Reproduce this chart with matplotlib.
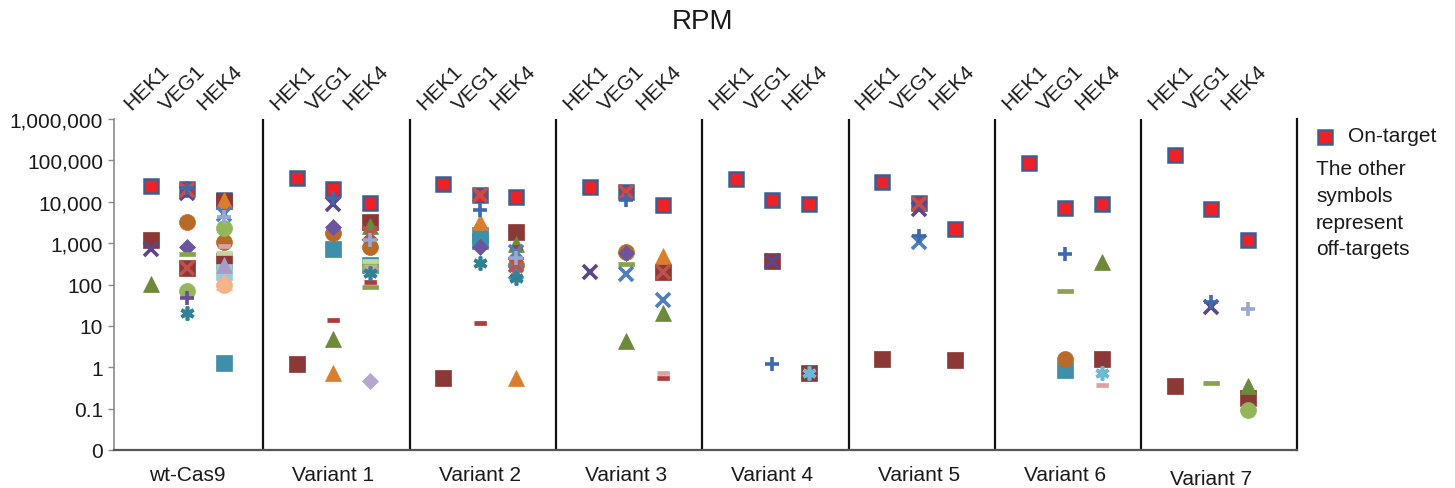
import matplotlib
matplotlib.use("Agg")
import matplotlib.pyplot as plt
from matplotlib.lines import Line2D
from matplotlib.ticker import FixedLocator, NullLocator

plt.rcParams["font.family"] = ["Liberation Sans", "DejaVu Sans"]

# ---------------------------
# Data
# ---------------------------
variants = ["wt-Cas9", "Variant 1", "Variant 2", "Variant 3",
            "Variant 4", "Variant 5", "Variant 6", "Variant 7"]
sites = ["HEK1", "VEG1", "HEK4"]

# on-target RPM per variant: HEK1, VEG1, HEK4
on_target = [
    [24400, 20200, 11000],
    [38000, 20000, 9460],
    [27200, 14500, 13200],
    [23000, 16800, 8300],
    [34600, 11000, 8600],
    [29400, 9460, 2150],
    [84500, 7160, 8970],
    [135000, 6530, 1180],
]

# off-targets: (variant index, site index, RPM), one list per symbol
sq_darkred = [(0, 0, 1180), (0, 1, 244), (0, 2, 10500), (0, 2, 380),
              (1, 0, 1.18), (1, 2, 3160), (2, 0, 0.55), (2, 2, 1820),
              (3, 2, 202), (4, 1, 380), (4, 2, 0.74), (5, 0, 1.56),
              (5, 2, 1.5), (6, 2, 1.56), (7, 0, 0.36), (7, 2, 0.18)]
sq_teal = [(0, 2, 1.27), (1, 1, 716), (1, 2, 300), (2, 1, 1600),
           (2, 1, 1100), (6, 1, 0.85)]
sq_lblue = [(0, 2, 205)]
x_purple = [(0, 0, 716), (0, 1, 16000), (1, 1, 8600), (3, 0, 202),
            (4, 1, 380), (5, 1, 6530), (7, 1, 29)]
x_blue = [(0, 2, 5000), (1, 2, 1700), (2, 2, 620), (2, 2, 205),
          (3, 1, 178), (3, 2, 42), (5, 1, 1040)]
x_red = [(0, 1, 19000), (0, 1, 244), (1, 2, 1700), (2, 1, 14500),
         (2, 2, 297), (3, 1, 16800), (3, 2, 202), (5, 1, 9000)]
tri_olive = [(0, 0, 105), (1, 1, 4.75), (1, 2, 2600), (2, 2, 935),
             (3, 1, 4.26), (3, 2, 21), (6, 2, 352), (7, 2, 0.36)]
tri_orange = [(0, 2, 11000), (1, 1, 0.74), (2, 1, 3160), (2, 2, 0.55),
              (3, 2, 493)]
tri_lilac = [(0, 2, 297)]
tri_peach = [(0, 2, 115)]
ast_teal = [(0, 1, 20), (1, 2, 186), (2, 1, 340), (2, 2, 140)]
ast_lblue = [(4, 2, 0.74), (6, 2, 0.74)]
circ_brown = [(0, 1, 3160), (0, 2, 1070), (1, 1, 1710), (1, 2, 815),
              (2, 2, 297), (3, 1, 617), (6, 1, 1.56)]
circ_lgreen = [(0, 1, 69), (0, 2, 2340), (1, 2, 270), (7, 2, 0.091)]
circ_peach = [(0, 2, 96)]
dia_purple = [(0, 1, 815), (1, 1, 2480), (2, 1, 815), (3, 1, 590)]
dia_lilac = [(1, 2, 0.46)]
plus_blue = [(0, 1, 21000), (1, 1, 12000), (2, 1, 6150), (3, 1, 11000),
             (4, 1, 1.23), (5, 1, 1480), (6, 1, 550), (7, 1, 38)]
plus_purple = [(0, 1, 46)]
plus_lilac = [(0, 2, 4350), (1, 2, 1180), (2, 2, 440), (7, 2, 25)]
bar_olive = [(0, 1, 560), (1, 2, 86), (3, 1, 305), (6, 1, 69), (7, 1, 0.41)]
bar_red = [(1, 1, 14), (1, 2, 112), (2, 1, 11.8), (2, 2, 815), (3, 2, 0.55)]
bar_pink = [(0, 2, 870), (1, 2, 260), (3, 2, 0.74), (6, 2, 0.38)]
bar_lgreen = [(0, 2, 590), (1, 2, 360)]

y_ticks = [0.01, 0.1, 1, 10, 100, 1000, 10000, 100000, 1000000]
y_labels = ["0", "0.1", "1", "10", "100", "1,000", "10,000",
            "100,000", "1,000,000"]

# ---------------------------
# Marker styles
# ---------------------------
BAR = [(-1, -0.3), (1, -0.3), (1, 0.3), (-1, 0.3)]
STAR = (6, 2, 0)


def filled(marker, color, ms):
    return dict(marker=marker, ms=ms, mfc=color, mec=color, mew=0.5)


def lined(marker, color, ms):
    return dict(marker=marker, ms=ms, mfc="none", mec=color, mew=2.6)


series = [
    (sq_darkred, filled("s", "#8C3836", 11.3)),
    (sq_teal, filled("s", "#3E8FA9", 11.3)),
    (sq_lblue, filled("s", "#9ACBDD", 11.3)),
    (circ_brown, filled("o", "#B86A2A", 11.5)),
    (circ_lgreen, filled("o", "#93B65A", 11.5)),
    (circ_peach, filled("o", "#F4B185", 11.5)),
    (dia_purple, filled("D", "#6B55A0", 8.2)),
    (dia_lilac, filled("D", "#B3A6CF", 8.2)),
    (tri_olive, filled("^", "#6C8A3A", 11.5)),
    (tri_orange, filled("^", "#DA7D2C", 11.5)),
    (tri_lilac, filled("^", "#A99BC8", 11.5)),
    (tri_peach, filled("^", "#F6B48C", 11.5)),
    (bar_olive, filled(BAR, "#87A44C", 11.5)),
    (bar_red, filled(BAR, "#B03A3A", 8)),
    (bar_pink, filled(BAR, "#D9A3A3", 8)),
    (bar_lgreen, filled(BAR, "#C4D69E", 11.5)),
    (x_purple, lined("x", "#5A4787", 9.5)),
    (x_blue, lined("x", "#4F7FBF", 9.5)),
    (x_red, lined("x", "#C0504D", 9.5)),
    (ast_teal, lined(STAR, "#2F8196", 10)),
    (ast_lblue, lined(STAR, "#6DB8D3", 10)),
    (plus_blue, lined("+", "#3E69AD", 10)),
    (plus_purple, lined("+", "#6A4C9C", 10)),
    (plus_lilac, lined("+", "#97A9D4", 10)),
]

ON_STYLE = dict(marker="s", ms=9.8, mfc="#EE2226", mec="#3A5F95", mew=1.8)


def xpos(v, s):
    return 4 * v + s + 1


# ---------------------------
# Figure
# ---------------------------
fig = plt.figure(figsize=(14.55, 4.89), dpi=100)
ax = fig.add_axes([114 / 1455, 1 - 451 / 489, 1183 / 1455, 331 / 489])

for v, row in enumerate(on_target):
    for s, val in enumerate(row):
        ax.plot(xpos(v, s), val, ls="none", zorder=3, **ON_STYLE)

for pts, style in series:
    xs = [xpos(v, s) for v, s, _ in pts]
    ys = [val for _, _, val in pts]
    ax.plot(xs, ys, ls="none", zorder=4, **style)

ax.set_yscale("log")
ax.set_ylim(0.01, 1000000)
ax.set_xlim(0, 32.34)
ax.yaxis.set_major_locator(FixedLocator(y_ticks))
ax.yaxis.set_minor_locator(NullLocator())
ax.set_yticklabels(y_labels)
ax.tick_params(axis="y", length=4, width=1, color="#8a8a8a",
               labelsize=15, pad=4, labelcolor="#1a1a1a")

ax.set_xticks([4 * v + 2 for v in range(len(variants))])
ax.set_xticklabels(variants)
ax.tick_params(axis="x", length=0, labelsize=15, pad=11, labelcolor="#1a1a1a")
ax.get_xticklabels()[-1].set_y(-0.012)

ax.spines["top"].set_visible(False)
ax.spines["right"].set_color("#111111")
ax.spines["right"].set_linewidth(1.6)
ax.spines["left"].set_color("#8a8a8a")
ax.spines["left"].set_linewidth(1.2)
ax.spines["bottom"].set_color("#555555")
ax.spines["bottom"].set_linewidth(1.6)

for v in range(1, len(variants)):
    ax.axvline(4 * v + 0.08, color="#111111", lw=1.6, zorder=1)

# rotated site labels above each column
for v in range(len(variants)):
    for s, name in enumerate(sites):
        ax.annotate(name, xy=(xpos(v, s), 1), xycoords=("data", "axes fraction"),
                    xytext=(-4, 32), textcoords="offset pixels",
                    rotation=45, ha="center", va="center", fontsize=15,
                    color="#1a1a1a")

fig.text(703 / 1455, 1 - 22 / 489, "RPM", ha="center", va="center",
         fontsize=20, color="#1a1a1a")

# legend
fig.add_artist(Line2D([1325 / 1455], [1 - 138 / 489], transform=fig.transFigure,
                      ls="none", **ON_STYLE))
fig.text(1348 / 1455, 1 - 137 / 489, "On-target", ha="left", va="center",
         fontsize=15, color="#1a1a1a")
fig.text(1316 / 1455, 1 - 160 / 489,
         "The other\nsymbols\nrepresent\noff-targets",
         ha="left", va="top", fontsize=15, linespacing=1.52, color="#1a1a1a")

fig.savefig("out.png", dpi=100)
